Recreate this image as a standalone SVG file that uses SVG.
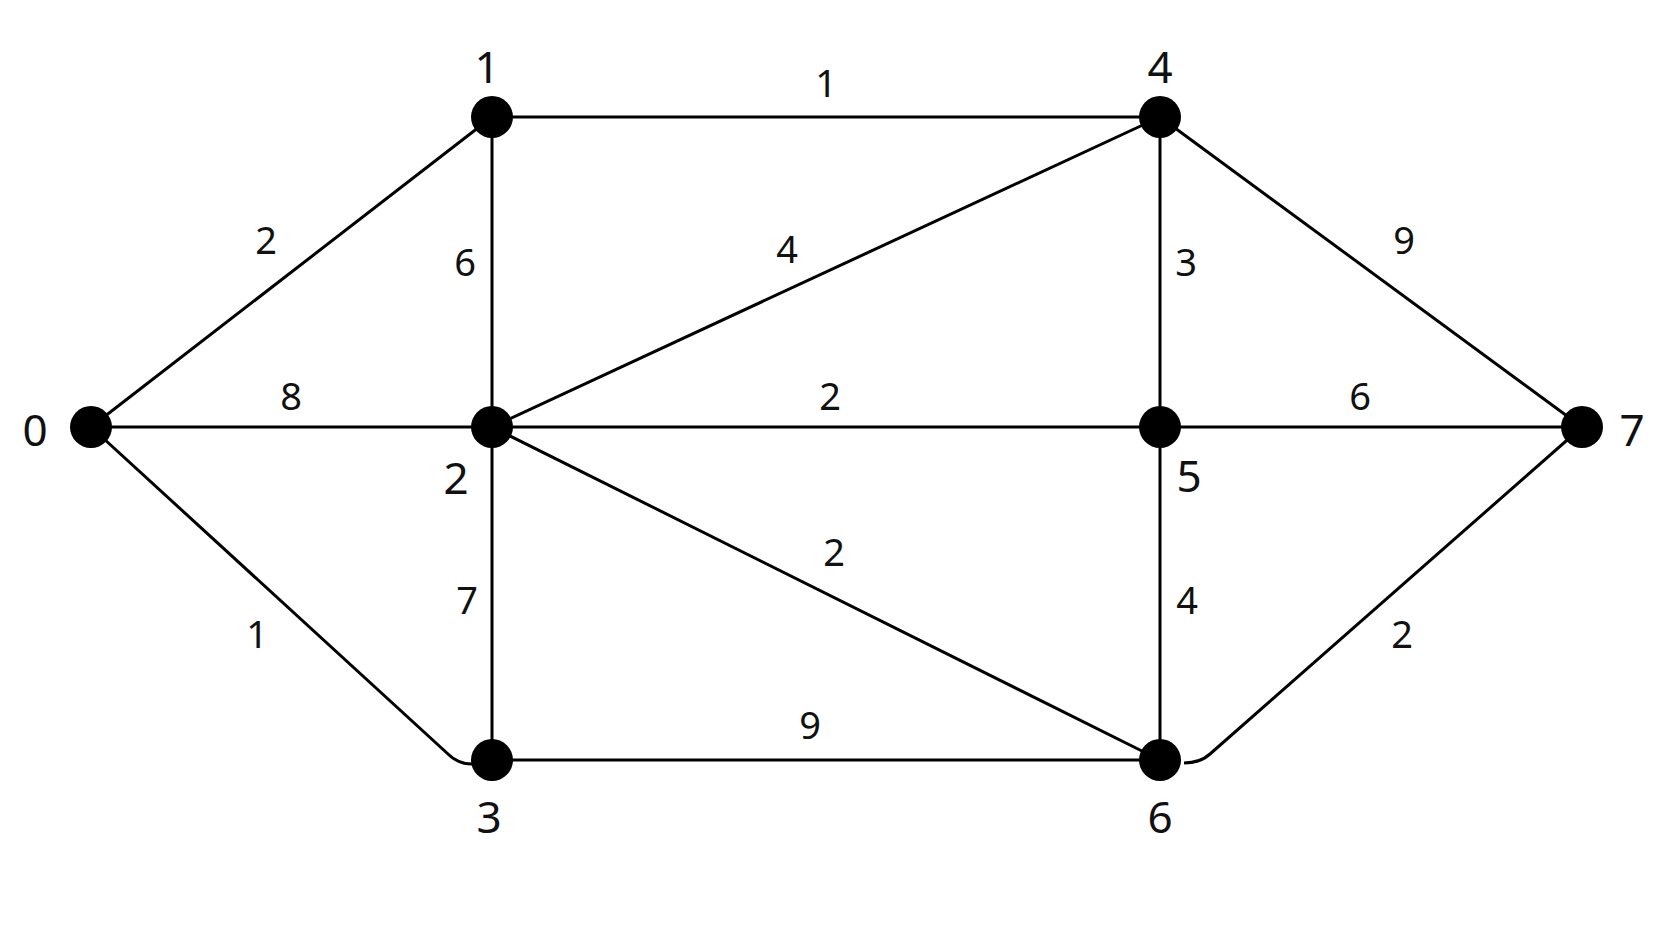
<svg xmlns="http://www.w3.org/2000/svg" width="1672" height="941" viewBox="0 0 1672 941">
<style>
.e{stroke:#000;stroke-width:3;fill:none}
.n{fill:#000}
text{font-family:"Noto Sans","Liberation Sans",sans-serif;fill:#111;text-anchor:middle;dominant-baseline:central}
.nl{font-size:44px}
.el{font-size:38px}
</style>
<rect width="1672" height="941" fill="#fff"/>
<g id="edges">
<line class="e" x1="91" y1="427" x2="492" y2="117"/>
<line class="e" x1="91" y1="427" x2="492" y2="427"/>
<path class="e" d="M91 427 L448 754 Q458 764 472 764"/>
<line class="e" x1="492" y1="117" x2="1160" y2="117"/>
<line class="e" x1="492" y1="117" x2="492" y2="760"/>
<line class="e" x1="492" y1="427" x2="1160" y2="117"/>
<line class="e" x1="492" y1="427" x2="1582" y2="427"/>
<line class="e" x1="492" y1="427" x2="1160" y2="760"/>
<line class="e" x1="492" y1="760" x2="1160" y2="760"/>
<line class="e" x1="1160" y1="117" x2="1160" y2="760"/>
<line class="e" x1="1160" y1="117" x2="1582" y2="427"/>
<path class="e" d="M1582 427 L1210 754 Q1200 763 1184 763"/>
</g>
<g id="edge-labels">
<text class="el" x="826" y="82">1</text>
<text class="el" x="266" y="239">2</text>
<text class="el" x="465" y="261">6</text>
<text class="el" x="787" y="248">4</text>
<text class="el" x="1186" y="261">3</text>
<text class="el" x="1404" y="239">9</text>
<text class="el" x="291" y="395">8</text>
<text class="el" x="830" y="395">2</text>
<text class="el" x="1360" y="395">6</text>
<text class="el" x="467" y="599">7</text>
<text class="el" x="834" y="551">2</text>
<text class="el" x="1187" y="599">4</text>
<text class="el" x="257" y="633">1</text>
<text class="el" x="1402" y="633">2</text>
<text class="el" x="810" y="724">9</text>
</g>
<g id="node0"><circle class="n" cx="91" cy="427" r="21"/><text class="nl" x="35" y="429">0</text></g>
<g id="node1"><circle class="n" cx="492" cy="117" r="21"/><text class="nl" x="487" y="66">1</text></g>
<g id="node2"><circle class="n" cx="492" cy="427" r="21"/><text class="nl" x="456" y="477">2</text></g>
<g id="node3"><circle class="n" cx="492" cy="760" r="21"/><text class="nl" x="489" y="816">3</text></g>
<g id="node4"><circle class="n" cx="1160" cy="117" r="21"/><text class="nl" x="1160" y="66">4</text></g>
<g id="node5"><circle class="n" cx="1160" cy="427" r="21"/><text class="nl" x="1189" y="475">5</text></g>
<g id="node6"><circle class="n" cx="1160" cy="760" r="21"/><text class="nl" x="1160" y="816">6</text></g>
<g id="node7"><circle class="n" cx="1582" cy="427" r="21"/><text class="nl" x="1632" y="429">7</text></g>
</svg>
